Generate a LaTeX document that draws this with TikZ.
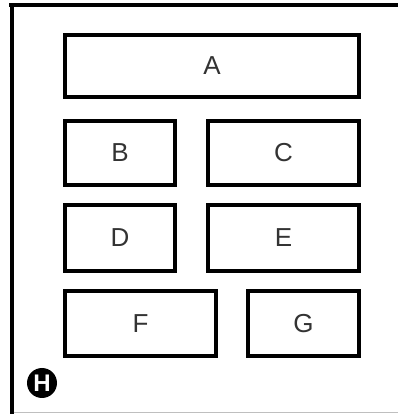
\documentclass[tikz,border=0pt]{standalone}
\usepackage{fontspec}
\setmainfont{Liberation Sans}
\usetikzlibrary{positioning}

\begin{document}
\begin{tikzpicture}[
    x=1pt, y=1pt,
    every node/.style={font=\fontsize{26}{30}\selectfont},
    box/.style={rectangle, draw=black, line width=4pt, text=black!80, inner sep=0pt},
    badge/.style={circle, fill=black, text=white, inner sep=0pt, minimum size=30pt,
                  font=\fontsize{24}{24}\selectfont\bfseries},
]
\useasboundingbox (0,0) rectangle (398,414);

% frame
\draw[line width=4pt] (9,408.5) -- (398,408.5);
\draw[line width=4pt] (11.5,410.5) -- (11.5,0);
\draw[line width=1.5pt, black!25] (13.5,1.5) -- (398,1.5);

\node[box, minimum width=294pt, minimum height=62pt] (A) at (212,348) {A};
\node[box, minimum width=110pt, minimum height=64pt, below right=20pt and 0pt of A.south west] (B) {B};
\node[box, minimum width=151pt, minimum height=64pt, below left=20pt and 0pt of A.south east] (C) {C};
\node[box, minimum width=110pt, minimum height=66pt, below=16pt of B] (D) {D};
\node[box, minimum width=151pt, minimum height=66pt, below=16pt of C] (E) {E};
\node[box, minimum width=151pt, minimum height=65pt, below right=16pt and 0pt of D.south west] (F) {F};
\node[box, minimum width=111pt, minimum height=65pt, below left=16pt and 0pt of E.south east] (G) {G};

\node[badge] (H) at (42,31) {H};

\end{tikzpicture}
\end{document}
